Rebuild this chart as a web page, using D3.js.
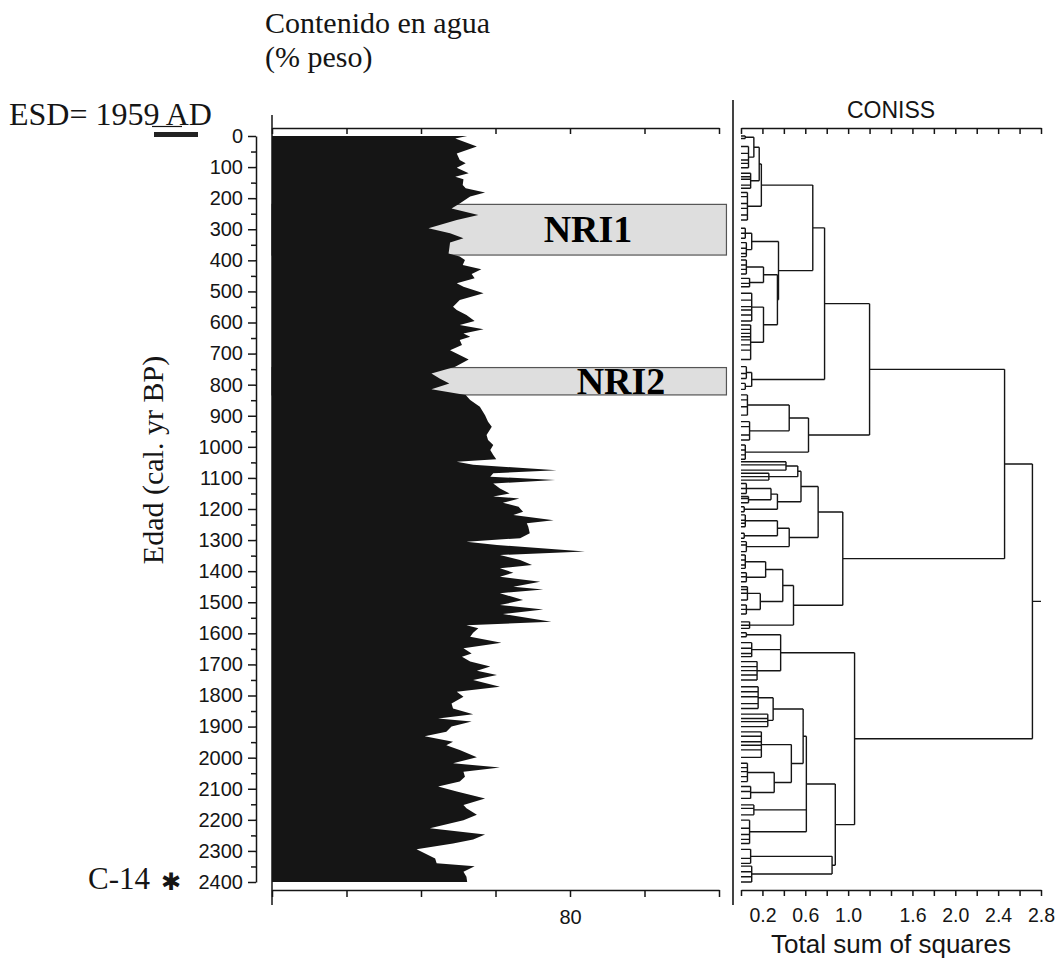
<!DOCTYPE html>
<html><head><meta charset="utf-8">
<script src="https://cdn.jsdelivr.net/npm/d3@7"></script>
<style>body{margin:0;background:#fff}svg{display:block}</style>
</head><body>
<svg id="c" width="1059" height="964"></svg>
<script>
// ---------- data ----------
const sampleAges = [0,8,34,56,77,88,102,120,131,139,158,168,182,195,217,233,254,270,297,313,329,343,361,378,388,399,415,429,444,458,474,485,506,528,549,560,576,595,608,622,635,646,656,672,689,719,742,764,780,796,815,833,849,871,898,919,935,962,978,994,1010,1026,1040,1048,1058,1075,1085,1096,1107,1118,1134,1150,1160,1166,1180,1193,1209,1219,1236,1246,1257,1278,1294,1305,1316,1337,1348,1364,1380,1391,1405,1418,1434,1450,1459,1471,1493,1509,1523,1538,1563,1574,1584,1598,1611,1630,1648,1665,1675,1691,1707,1720,1734,1750,1772,1788,1804,1826,1842,1860,1874,1884,1900,1917,1931,1949,1960,1975,1999,2018,2032,2045,2061,2077,2093,2109,2131,2152,2163,2184,2201,2227,2247,2263,2276,2295,2324,2340,2349,2367,2383,2400];
const waterContent = [66.2,64.6,67.5,64.8,65.2,66.0,64.8,66.4,64.6,65.7,65.6,66.0,68.6,66.6,65.2,64.1,67.7,64.8,61.0,63.9,65.7,63.9,63.8,63.7,65.2,65.9,65.6,68.1,66.8,67.2,64.8,65.7,68.4,65.2,64.3,64.8,66.1,67.2,65.2,68.4,65.7,66.6,65.2,65.5,63.9,66.4,64.6,61.4,62.5,63.8,61.4,66.0,66.6,67.9,68.6,69.0,69.5,68.8,69.0,69.7,69.3,69.7,70.1,64.8,67.0,78.2,69.7,69.3,78.0,69.7,70.6,71.9,69.7,73.2,71.0,73.1,73.7,72.4,77.8,74.2,74.4,74.6,73.3,66.1,70.2,82.0,70.6,73.3,74.9,70.6,72.4,70.6,76.0,72.4,76.4,70.6,73.7,70.6,76.4,71.0,77.5,66.1,67.7,67.0,66.6,70.8,65.7,66.8,65.5,66.6,69.3,67.5,70.2,67.0,70.6,64.8,65.7,64.1,64.3,67.0,62.3,66.8,64.1,63.4,60.5,64.3,63.4,65.2,67.5,64.3,70.6,65.7,65.9,65.2,62.3,64.8,68.6,65.7,66.1,67.5,65.7,61.2,68.6,67.0,64.3,59.4,61.9,62.1,67.2,65.7,66.1,66.2];

const ageTicks = [0,100,200,300,400,500,600,700,800,900,1000,1100,1200,1300,1400,1500,1600,1700,1800,1900,2000,2100,2200,2300,2400];
const ageMinorTicks = [50,150,250,350,450,550,650,750,850,950,1050,1150,1250,1350,1450,1550,1650,1750,1850,1950,2050,2150,2250,2350];
const waterTicks = [40,50,60,70,80,90,100];
const waterLabels = [80];
const conissTicks = [0,0.2,0.4,0.6,0.8,1.0,1.2,1.4,1.6,1.8,2.0,2.2,2.4,2.6,2.8];
const conissLabels = [0.2,0.6,1.0,1.6,2.0,2.4,2.8];

const nriNames = ["NRI1","NRI2"];
const nriFrom = [220,745];
const nriTo = [383,833];

// CONISS clusters: [height, child, child...]  or leaf group [height, fromAge, toAge)
const clusterA1a = [0.78,
  [0.67,
    [0.19, [0.17, [0.12, [0.04, 0, 30], [0.07, 30, 110]], [0.09, 110, 170]], [0.06, 170, 290]],
    [0.35, [0.10, [0.04, 290, 335], [0.05, 335, 395]],
           [0.34, [0.21, [0.05, 395, 450], [0.08, 450, 500]], [0.21, [0.10, 500, 600], [0.09, 600, 730]]]]],
  [0.10, [0.05, 730, 790], [0.04, 790, 825]]];
const clusterA1b = [0.63, [0.45, [0.06, 825, 900], [0.08, 900, 985]], [0.04, 985, 1045]];
const clusterA2 = [0.95,
  [0.72,
    [0.56, [0.53, [0.42, 1045, 1080], [0.26, 1080, 1115]], [0.34, [0.28, [0.05, 1115, 1155], [0.07, 1155, 1185]], [0.03, 1185, 1215]]],
    [0.45, [0.34, [0.04, 1215, 1260], [0.03, 1260, 1300]], [0.05, 1300, 1345]]],
  [0.49, [0.39, [0.23, [0.04, 1345, 1400], [0.05, 1400, 1440]], [0.18, [0.06, 1440, 1500], [0.05, 1500, 1545]]], [0.08, 1545, 1590]]];
const clusterB = [1.06,
  [0.37, [0.05, 1590, 1625], [0.10, 1625, 1690], [0.15, 1690, 1765]],
  [0.88,
    [0.61, [0.58, [0.30, [0.16, 1765, 1855], [0.25, 1855, 1915]], [0.47, [0.19, 1915, 2000], [0.31, [0.06, 2000, 2080], [0.09, 2080, 2140]]]], [0.12, 2140, 2200], [0.08, 2200, 2285]],
    [0.85, [0.09, 2285, 2345], [0.10, 2345, 2401]]]];
const conissRoot = [2.72, [2.46, [1.20, clusterA1a, clusterA1b], clusterA2], clusterB];

// ---------- drawing ----------
const svg = d3.select("#c");
const SANS = "'Liberation Sans', Arial, sans-serif";
const SERIF = "'Liberation Serif', 'Times New Roman', serif";
const INK = "#151515";

const y = d3.scaleLinear().domain([0, 2400]).range([136, 882]);
const xw = d3.scaleLinear().domain([40, 100]).range([272, 719]);
const xc = d3.scaleLinear().domain([0, 2.8]).range([741, 1041]);

// titles
svg.append("text").attr("x", 265).attr("y", 33).attr("font-family", SERIF).attr("font-size", 30).attr("fill", INK).text("Contenido en agua");
svg.append("text").attr("x", 265).attr("y", 67).attr("font-family", SERIF).attr("font-size", 30).attr("fill", INK).text("(% peso)");
svg.append("text").attr("x", 9).attr("y", 125).attr("font-family", SERIF).attr("font-size", 32).attr("fill", INK).text("ESD= 1959 AD");
svg.append("line").attr("x1", 152).attr("x2", 182).attr("y1", 126.5).attr("y2", 126.5).attr("stroke", INK).attr("stroke-width", 1.2);
svg.append("rect").attr("x", 154).attr("y", 132).attr("width", 44).attr("height", 5).attr("fill", "#222");

svg.append("text").attr("x", 88).attr("y", 889).attr("font-family", SERIF).attr("font-size", 31).attr("fill", INK).text("C-14");
svg.append("text").attr("x", 171).attr("y", 882).attr("text-anchor", "middle").attr("dominant-baseline", "central")
  .attr("font-family", "'DejaVu Sans', sans-serif").attr("font-size", 24).attr("fill", INK).text("\u2731");

svg.append("text").attr("transform", "translate(163,460) rotate(-90)").attr("text-anchor", "middle")
  .attr("font-family", SERIF).attr("font-size", 30).attr("fill", INK).text("Edad (cal. yr BP)");

// age axis
const gy = svg.append("g").attr("transform", "translate(256,0)");
gy.call(d3.axisLeft(y).tickValues(ageTicks).tickSize(8).tickSizeOuter(0).tickPadding(5).tickFormat(d3.format("d")));
const gyMinor = svg.append("g").attr("transform", "translate(256,0)");
gyMinor.call(d3.axisLeft(y).tickValues(ageMinorTicks).tickSize(5).tickSizeOuter(0).tickFormat(""));
gyMinor.select(".domain").remove();
[gy, gyMinor].forEach(g => {
  g.selectAll("path,line").attr("stroke", INK).attr("stroke-width", 1.5);
  g.selectAll("text").attr("font-family", SANS).attr("font-size", 20).attr("fill", INK);
});

// NRI boxes (behind the profile)
const nri = nriNames.map((n, i) => ({name: n, from: nriFrom[i], to: nriTo[i]}));
svg.selectAll("rect.nri").data(nri).join("rect").attr("class", "nri")
  .attr("x", xw(40)).attr("width", xw(101) - xw(40))
  .attr("y", d => y(d.from)).attr("height", d => y(d.to) - y(d.from))
  .attr("fill", "#dedede").attr("stroke", "#555").attr("stroke-width", 1.2);

// water content profile
const prof = sampleAges.map((a, i) => ({age: a, v: waterContent[i]}));
const area = d3.area().y(d => y(d.age)).x0(xw(40)).x1(d => xw(d.v)).curve(d3.curveLinear);
svg.append("path").datum(prof).attr("d", area).attr("fill", INK);

// NRI labels
const nriLabelX = [588, 621];
svg.selectAll("text.nri").data(nri).join("text").attr("class", "nri")
  .attr("x", (d, i) => nriLabelX[i]).attr("y", d => (y(d.from) + y(d.to)) / 2 + 12.5)
  .attr("text-anchor", "middle").attr("font-family", SERIF).attr("font-weight", "bold").attr("font-size", 38).attr("fill", "#000")
  .text(d => d.name);

// water axes
const styleAxis = (g, fs) => {
  g.selectAll("path,line").attr("stroke", INK).attr("stroke-width", 1.5);
  g.selectAll("text").attr("font-family", SANS).attr("font-size", fs).attr("fill", INK);
};
const gwb = svg.append("g").attr("transform", "translate(0,890)")
  .call(d3.axisBottom(xw).tickValues(waterTicks).tickSize(7).tickSizeOuter(0).tickPadding(13)
    .tickFormat(d => waterLabels.includes(d) ? String(d) : ""));
styleAxis(gwb, 20);
const gwt = svg.append("g").attr("transform", "translate(0,128)")
  .call(d3.axisBottom(xw).tickValues(waterTicks).tickSize(6).tickSizeOuter(0).tickFormat(""));
styleAxis(gwt, 20);
svg.append("line").attr("x1", xw(40)).attr("x2", xw(40)).attr("y1", 115).attr("y2", 905).attr("stroke", INK).attr("stroke-width", 1.5);

// separator
svg.append("line").attr("x1", 733).attr("x2", 733).attr("y1", 100).attr("y2", 905).attr("stroke", INK).attr("stroke-width", 1.6);

// CONISS axes
const gcb = svg.append("g").attr("transform", "translate(0,890)")
  .call(d3.axisBottom(xc).tickValues(conissTicks).tickSize(6).tickSizeOuter(0).tickPadding(12)
    .tickFormat(d => conissLabels.some(l => Math.abs(l - d) < 1e-6) ? d3.format(".1f")(d) : ""));
styleAxis(gcb, 19.5);
const gct = svg.append("g").attr("transform", "translate(0,128)")
  .call(d3.axisBottom(xc).tickValues(conissTicks).tickSize(6).tickSizeOuter(0).tickFormat(""));
styleAxis(gct, 19);
svg.append("text").attr("x", 891).attr("y", 118).attr("text-anchor", "middle").attr("font-family", SANS).attr("font-size", 23).attr("fill", INK).text("CONISS");
svg.append("text").attr("x", 891).attr("y", 953).attr("text-anchor", "middle").attr("font-family", SANS).attr("font-size", 26).attr("fill", INK).text("Total sum of squares");

// CONISS dendrogram
const kids = d => {
  if (d.age !== undefined) return null;
  if (typeof d[1] === "number") return sampleAges.filter(a => a >= d[1] && a < d[2]).map(a => ({age: a}));
  return d.slice(1);
};
const root = d3.hierarchy(conissRoot, kids);
root.eachAfter(n => {
  if (!n.children) { n.px = xc(0); n.py = y(n.data.age); }
  else {
    n.px = xc(n.data[0]);
    const ys = n.children.map(c => c.py);
    n.py0 = d3.min(ys); n.py1 = d3.max(ys);
    n.py = (n.py0 + n.py1) / 2;
  }
});
const p = d3.path();
root.each(n => {
  if (!n.children) return;
  p.moveTo(n.px, n.py0); p.lineTo(n.px, n.py1);
  n.children.forEach(c => { p.moveTo(c.px, c.py); p.lineTo(n.px, c.py); });
});
p.moveTo(root.px, root.py); p.lineTo(xc(2.8), root.py);
svg.append("path").attr("d", p.toString()).attr("fill", "none").attr("stroke", INK).attr("stroke-width", 1.4);
</script>
</body></html>
